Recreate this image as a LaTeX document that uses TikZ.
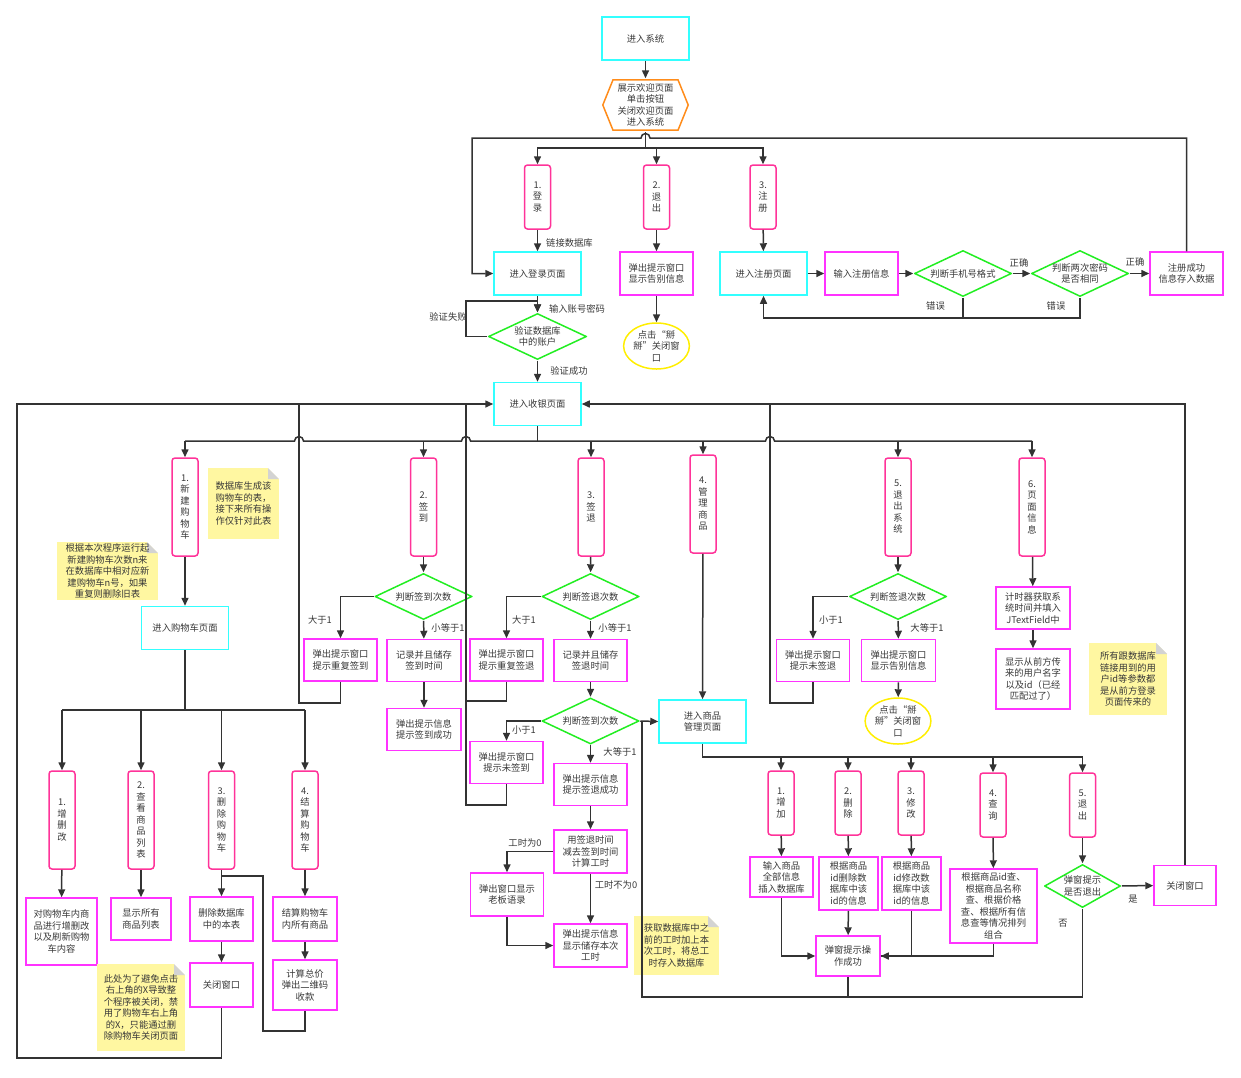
\documentclass[tikz,border=0pt]{standalone}
\usepackage{fontspec}
\setmainfont{Noto Sans CJK SC}
\usetikzlibrary{arrows.meta,calc,shapes.geometric}
\definecolor{cy}{HTML}{33FFFF}
\definecolor{mg}{HTML}{FF33FF}
\definecolor{pk}{HTML}{FF3399}
\definecolor{gr}{HTML}{22EE22}
\definecolor{orng}{HTML}{FF8C1A}
\definecolor{yl}{HTML}{FFEE00}
\definecolor{notebg}{HTML}{FFF7A1}
\definecolor{fold}{HTML}{D3D3D3}
\definecolor{ln}{HTML}{333333}
\definecolor{txt}{HTML}{383838}
\tikzset{
  x=1pt,y=-1pt,
  base/.style={font=\fontsize{9.3}{11.5}\selectfont, text=txt, align=center, inner sep=1pt, line width=1.5pt},
  sz/.style 2 args={minimum width=#1, minimum height=#2},
  cbox/.style={base, draw=cy, minimum width=87, minimum height=43},
  mbox/.style={base, draw=mg},
  vbox/.style={base, draw=pk, rounded corners=3, minimum width=26, text width=11},
  ebox/.style={base, draw=yl, ellipse, minimum width=65, minimum height=46, inner sep=0pt},
  dia/.style={base, fill=white, minimum width=98, minimum height=47, path picture={
    \draw[gr, line width=1.5pt] ([xshift=0.8pt]path picture bounding box.west) -- ([yshift=-0.8pt]path picture bounding box.north) -- ([xshift=-0.8pt]path picture bounding box.east) -- ([yshift=0.8pt]path picture bounding box.south) -- cycle;}},
  hexa/.style={base, fill=white, minimum width=87, minimum height=52, path picture={
    \draw[orng, line width=1.5pt] ([xshift=0.8pt]path picture bounding box.west) -- ([xshift=11pt,yshift=-0.8pt]path picture bounding box.north west) -- ([xshift=-11pt,yshift=-0.8pt]path picture bounding box.north east) -- ([xshift=-0.8pt]path picture bounding box.east) -- ([xshift=-11pt,yshift=0.8pt]path picture bounding box.south east) -- ([xshift=11pt,yshift=0.8pt]path picture bounding box.south west) -- cycle;}},
  note/.style={base, fill=notebg, path picture={
    \fill[white] (path picture bounding box.north east) -- ++(-11pt,0pt) -- ++(11pt,-11pt) -- cycle;
    \fill[fold] ([xshift=-11pt]path picture bounding box.north east) -- ++(0pt,-11pt) -- ++(11pt,0pt) -- cycle;}},
  conn/.style={draw=ln, line width=1.5pt},
  arr/.style={conn, -{Triangle[length=8pt,width=7pt]}},
  lbl/.style={font=\fontsize{9.3}{11.5}\selectfont, text=txt, inner sep=0pt},
}
\begin{document}
\begin{tikzpicture}
\useasboundingbox (0,0) rectangle (1241,1077);
% ---------- top ----------
\node[cbox] (sys) at (645.5,38.5) {进入系统};
\node[hexa] (hex) at (645.5,105) {展示欢迎页面\\单击按钮\\关闭欢迎页面\\进入系统};
\node[vbox, minimum height=64] (login) at (537.5,197) {1.\\登\\录};
\node[vbox, minimum height=64] (exit) at (656.5,197) {2.\\退\\出};
\node[vbox, minimum height=64] (reg) at (763,197) {3.\\注\\册};
\node[cbox] (loginpg) at (537.5,273.5) {进入登录页面};
\node[mbox, sz={73}{43}] (bye) at (656.5,273.5) {弹出提示窗口\\显示告别信息};
\node[ebox] (byeok) at (656.5,346) {点击“掰\\掰”关闭窗\\口};
\node[cbox] (regpg) at (763.5,273.5) {进入注册页面};
\node[mbox, sz={73}{43}] (reginfo) at (861.5,273.5) {输入注册信息};
\node[dia] (chkphone) at (963,273.5) {判断手机号格式};
\node[dia] (chkpw) at (1080,273.5) {判断两次密码\\是否相同};
\node[mbox, sz={73}{43}] (regok) at (1186.5,273.5) {注册成功\\信息存入数据};
\node[dia, sz={99}{47}] (verify) at (537.5,336.5) {验证数据库\\中的账户};
\node[cbox] (cash) at (537.5,404) {进入收银页面};
% ---------- main row ----------
\node[vbox, minimum height=98] (v1) at (185,507) {1.\\新\\建\\购\\物\\车};
\node[vbox, minimum height=98] (v2) at (423.5,507) {2.\\签\\到};
\node[vbox, minimum height=98] (v3) at (591,507) {3.\\签\\退};
\node[vbox, minimum height=98] (v4) at (703,504) {4.\\管\\理\\商\\品};
\node[vbox, minimum height=98] (v5) at (898,507) {5.\\退\\出\\系\\统};
\node[vbox, minimum height=98] (v6) at (1032,507) {6.\\页\\面\\信\\息};
\node[note, sz={71}{71}] (note1) at (243.5,503.5) {数据库生成该\\购物车的表，\\接下来所有操\\作仅针对此表};
\node[note, sz={101}{58}] (note2) at (107.5,571) {根据本次程序运行起\\新建购物车次数n来\\在数据库中相对应新\\建购物车n号，如果\\重复则删除旧表};
% ---------- cart ----------
\node[cbox] (cartpg) at (185,628) {进入购物车页面};
\node[vbox, minimum height=98] (c1) at (62,820) {1.\\增\\删\\改};
\node[vbox, minimum height=98] (c2) at (141,820) {2.\\查\\看\\商\\品\\列\\表};
\node[vbox, minimum height=98] (c3) at (221.5,820) {3.\\删\\除\\购\\物\\车};
\node[vbox, minimum height=98] (c4) at (305,820) {4.\\结\\算\\购\\物\\车};
\node[mbox, sz={71}{67}] (c1b) at (61.5,931.5) {对购物车内商\\品进行增删改\\以及刷新购物\\车内容};
\node[mbox, sz={60}{42}] (c2b) at (141,919) {显示所有\\商品列表};
\node[mbox, sz={63}{44}] (c3b) at (221.5,919) {删除数据库\\中的本表};
\node[mbox, sz={63}{44}] (c3c) at (221.5,985) {关闭窗口};
\node[mbox, sz={64}{44}] (c4b) at (305,919) {结算购物车\\内所有商品};
\node[mbox, sz={64}{50}] (c4c) at (305,985) {计算总价\\弹出二维码\\收款};
\node[note, sz={88}{87}] (note3) at (141,1007.5) {此处为了避免点击\\右上角的X导致整\\个程序被关闭，禁\\用了购物车右上角\\的X，只能通过删\\除购物车关闭页面};
% ---------- sign in ----------
\node[dia] (d2) at (423.5,596.5) {判断签到次数};
\node[mbox, sz={73}{42}] (rep2) at (340.5,660) {弹出提示窗口\\提示重复签到};
\node[mbox, sz={74}{42}] (rec2) at (424,660.5) {记录并且储存\\签到时间};
\node[mbox, sz={74}{42}] (ok2) at (424,729.5) {弹出提示信息\\提示签到成功};
% ---------- sign out ----------
\node[dia] (d3) at (590.5,596.5) {判断签退次数};
\node[mbox, sz={73}{42}] (rep3) at (506.5,660) {弹出提示窗口\\提示重复签退};
\node[mbox, sz={73}{42}] (rec3) at (590.5,660.5) {记录并且储存\\签退时间};
\node[dia] (d3b) at (590.5,721) {判断签到次数};
\node[mbox, sz={73}{42}] (no3) at (506.5,762.5) {弹出提示窗口\\提示未签到};
\node[mbox, sz={73}{42}] (ok3) at (590.5,784.5) {弹出提示信息\\提示签退成功};
\node[mbox, sz={73}{43}] (calc3) at (590.5,851.5) {用签退时间\\减去签到时间\\计算工时};
\node[mbox, sz={73}{43}] (boss) at (507,894.5) {弹出窗口显示\\老板语录};
\node[mbox, sz={73}{43}] (save3) at (590.5,945.5) {弹出提示信息\\显示储存本次\\工时};
\node[note, sz={85}{59}] (note4) at (676.5,945.5) {获取数据库中之\\前的工时加上本\\次工时，将总工\\时存入数据库};
% ---------- goods management ----------
\node[cbox] (mgpg) at (702.5,721.5) {进入商品\\管理页面};
\node[vbox, minimum height=64] (m1) at (781,803) {1.\\增\\加};
\node[vbox, minimum height=64] (m2) at (848,803) {2.\\删\\除};
\node[vbox, minimum height=64] (m3) at (911,803) {3.\\修\\改};
\node[vbox, minimum height=64] (m4) at (993,805) {4.\\查\\询};
\node[vbox, minimum height=64] (m5) at (1082.5,805) {5.\\退\\出};
\node[mbox, sz={63}{40}] (m1b) at (781.5,877) {输入商品\\全部信息\\插入数据库};
\node[mbox, sz={59}{53}] (m2b) at (848.5,883.5) {根据商品\\id删除数\\据库中该\\id的信息};
\node[mbox, sz={59}{53}] (m3b) at (911.5,883.5) {根据商品\\id修改数\\据库中该\\id的信息};
\node[mbox, sz={87}{74}] (m4b) at (993.5,906) {根据商品id查、\\根据商品名称\\查、根据价格\\查、根据所有信\\息查等情况排列\\组合};
\node[dia, sz={77}{44}] (m5d) at (1082.5,886) {弹窗提示\\是否退出};
\node[mbox, sz={62}{40}] (close2) at (1185,885.5) {关闭窗口};
\node[mbox, sz={64}{40}] (opok) at (848,956) {弹窗提示操\\作成功};
% ---------- exit system ----------
\node[dia] (d5) at (898,596.5) {判断签退次数};
\node[mbox, sz={73}{42}] (no5) at (813,660.5) {弹出提示窗口\\提示未签退};
\node[mbox, sz={74}{42}] (bye5) at (898.5,660.5) {弹出提示窗口\\显示告别信息};
\node[ebox] (byeok5) at (898,721) {点击“掰\\掰”关闭窗\\口};
% ---------- page info ----------
\node[mbox, sz={74}{42}] (timer) at (1033,608) {计时器获取系\\统时间并填入\\JTextField中};
\node[mbox, sz={74}{60}] (uname) at (1033,679) {显示从前方传\\来的用户名字\\以及id（已经\\匹配过了）};
\node[note, sz={78}{72}] (note5) at (1128,679) {所有跟数据库\\链接用到的用\\户id等参数都\\是从前方登录\\页面传来的};

% ================= connectors =================
\coordinate (hop1) at (645.5,138);
\coordinate (br1) at (645.5,148);
\draw[arr] (sys) -- (hex);
\draw[conn] (hex.south) -- (br1);
\draw[arr] (br1) -| (login.north);
\draw[arr] (br1) -| (exit.north);
\draw[arr] (br1) -| (reg.north);
\draw[arr] (regok.north) -- (regok.north |- hop1) -- ([xshift=4.5pt]hop1) arc[start angle=0,end angle=180,radius=4.5pt] -- (472,138) -- (472,273.5) -- (loginpg.west);
\draw[arr] (login) -- (loginpg);
\draw[arr] (exit) -- (bye);
\draw[arr] (bye) -- (byeok);
\draw[arr] (reg) -- (regpg);
\draw[arr] (regpg) -- (reginfo);
\draw[arr] (reginfo) -- (chkphone);
\draw[arr] (chkphone) -- (chkpw);
\draw[arr] (chkpw) -- (regok);
\draw[arr] (chkphone.south) -- (chkphone.south |- 0,318) -| (regpg.south);
\draw[conn] (chkpw.south) -- (chkpw.south |- 0,318) -- (chkphone.south |- 0,318);
\draw[arr] (loginpg) -- (verify);
\draw[arr] (verify.west) -- (466,336.5) -- (466,301) -- (537.5,301) -- (verify.north);
\draw[arr] (verify) -- (cash);
\node[lbl, anchor=west] (t1) at (546,243) {链接数据库};
\node[lbl] (t2) at (1019,263) {正确};
\node[lbl] (t3) at (1135,262) {正确};
\node[lbl] (t4) at (935.5,306) {错误};
\node[lbl] (t5) at (1056,306) {错误};
\node[lbl] (t6) at (577,309) {输入账号密码};
\node[lbl] (t7) at (448,317) {验证失败};
\node[lbl] (t8) at (569,371) {验证成功};

% bus under cashier
\coordinate (bus) at (537.5,441);
\draw[conn] (cash.south) -- (bus);
\draw[conn] (v1 |- bus) -- (294.5,441) arc[start angle=180,end angle=0,radius=4.5pt] -- (461.5,441) arc[start angle=180,end angle=0,radius=4.5pt] -- (765.5,441) arc[start angle=180,end angle=0,radius=4.5pt] -- (v6 |- bus);
\draw[arr] (v1 |- bus) -- (v1.north);
\draw[arr] (v2 |- bus) -- (v2.north);
\draw[arr] (v3 |- bus) -- (v3.north);
\draw[arr] (v4 |- bus) -- (v4.north);
\draw[arr] (v5 |- bus) -- (v5.north);
\draw[arr] (v6 |- bus) -- (v6.north);

% return loops to cashier
\draw[arr] (c3c.south) -- (221.5,1058) -- (17,1058) -- (17,404) -- (cash.west);
\draw[arr] (close2.north) -- (1185,404) -- (cash.east);
\draw[conn] (rep2.south) -- (340.5,703) -- (299,703) -- (299,404);
\draw[conn] (no3.south) -- (506.5,805) -- (466,805) -- (466,404);
\draw[conn] (rep3.south) -- (506.5,701) -- (466,701);
\draw[conn] (no5.south) -- (813,703) -- (770,703) -- (770,404);

% cart
\coordinate (cbus) at (185,710);
\draw[arr] (v1) -- (cartpg);
\draw[conn] (cartpg.south) -- (cbus);
\draw[conn] (c1 |- cbus) -- (c4 |- cbus);
\draw[arr] (c1 |- cbus) -- (c1.north);
\draw[arr] (c2 |- cbus) -- (c2.north);
\draw[arr] (c3 |- cbus) -- (c3.north);
\draw[arr] (c4 |- cbus) -- (c4.north);
\draw[arr] (c1) -- (c1b);
\draw[arr] (c2) -- (c2b);
\draw[arr] (c3) -- (c3b);
\draw[arr] (c3b) -- (c3c);
\draw[arr] (c4) -- (c4b);
\draw[arr] (c4b) -- (c4c);
\draw[conn] (c4c.south) -- (305,1031) -- (263,1031) -- (263,876) -- (221.5,876);

% sign in
\draw[arr] (v2) -- (d2);
\draw[arr] (d2.west) -| (rep2.north);
\draw[arr] (d2) -- (rec2);
\draw[arr] (rec2) -- (ok2);
\node[lbl] (t9) at (320,620) {大于1};
\node[lbl] (t10) at (448,628) {小等于1};

% sign out
\draw[arr] (v3) -- (d3);
\draw[arr] (d3.west) -| (rep3.north);
\draw[arr] (d3) -- (rec3);
\draw[arr] (rec3) -- (d3b);
\draw[arr] (d3b.west) -| (no3.north);
\draw[arr] (d3b) -- (ok3);
\draw[arr] (ok3) -- (calc3);
\draw[arr] (calc3.west) -| (boss.north);
\draw[arr] (calc3) -- (save3);
\draw[arr] (boss.south) |- (save3.west);
\draw[arr] (d3b.east) -- (mgpg.west);
\node[lbl] (t11) at (524,620) {大于1};
\node[lbl] (t12) at (615,628) {小等于1};
\node[lbl] (t13) at (524,730) {小于1};
\node[lbl] (t14) at (620,752) {大等于1};
\node[lbl] (t15) at (525,843) {工时为0};
\node[lbl] (t16) at (616,885) {工时不为0};

% goods management
\coordinate (mbus) at (702.5,757);
\draw[arr] (v4) -- (mgpg);
\draw[conn] (mgpg.south) -- (mbus) -- (m5 |- mbus);
\draw[arr] (m1 |- mbus) -- (m1.north);
\draw[arr] (m2 |- mbus) -- (m2.north);
\draw[arr] (m3 |- mbus) -- (m3.north);
\draw[arr] (m4 |- mbus) -- (m4.north);
\draw[arr] (m5 |- mbus) -- (m5.north);
\draw[arr] (m1) -- (m1b);
\draw[arr] (m2) -- (m2b);
\draw[arr] (m3) -- (m3b);
\draw[arr] (m4) -- (m4b);
\draw[arr] (m5) -- (m5d);
\draw[arr] (m1b.south) |- (opok.west);
\draw[arr] (m2b) -- (opok);
\draw[arr] (m3b.south) |- (opok.east);
\draw[conn] (m4b.south) |- (opok.east);
\draw[arr] (m5d) -- (close2);
\draw[conn] (opok.south) -- (opok.south |- 0,997);
\draw[conn] (m5d.south) -- (m5d.south |- 0,997) -- (642,997) -- (642,721.5);
\node[lbl] (t17) at (1133,899) {是};
\node[lbl] (t18) at (1063,923) {否};

% exit system
\draw[arr] (v5) -- (d5);
\draw[arr] (d5.west) -| (no5.north);
\draw[arr] (d5) -- (bye5);
\draw[arr] (bye5) -- (byeok5);
\node[lbl] (t19) at (831,620) {小于1};
\node[lbl] (t20) at (927,628) {大等于1};

% page info
\draw[arr] (v6) -- (timer);
\draw[arr] (timer) -- (uname);
\end{tikzpicture}
\end{document}
